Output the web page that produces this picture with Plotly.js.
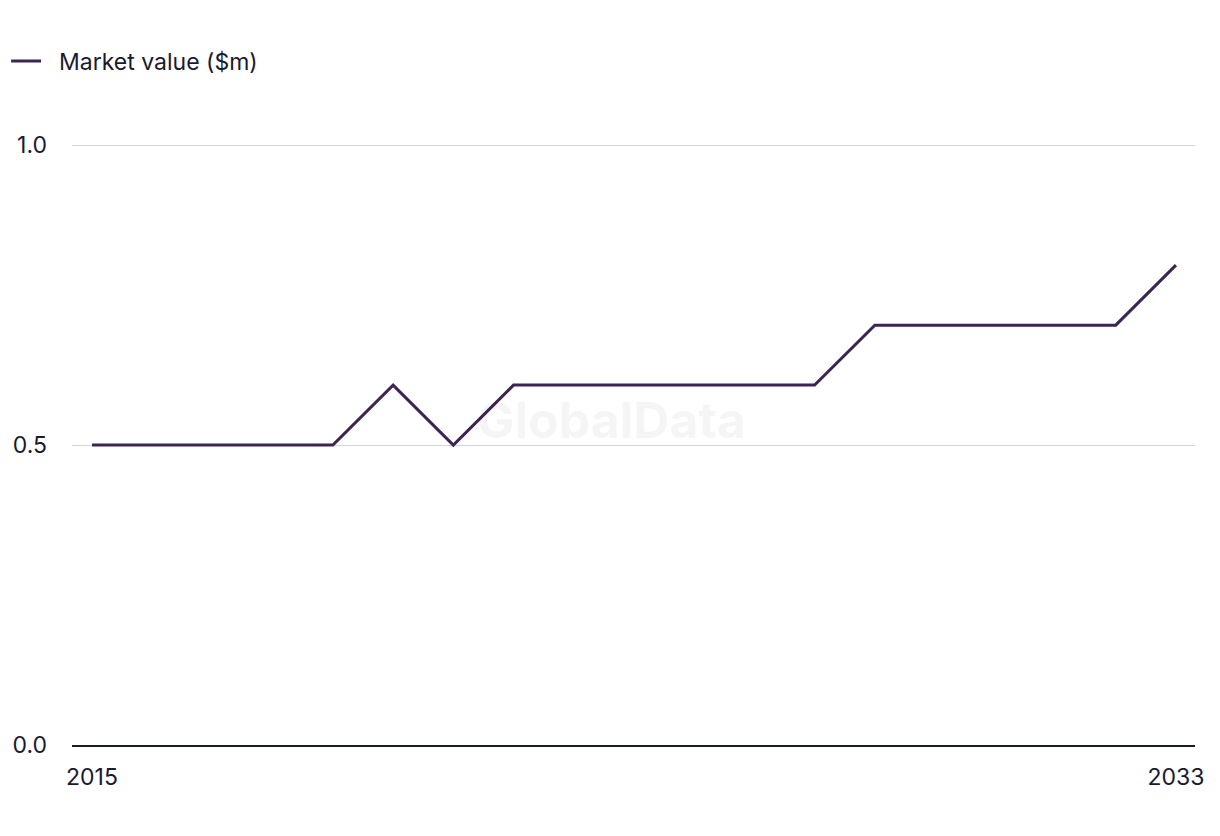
<!DOCTYPE html>
<html>
<head>
<meta charset="utf-8">
<script src="https://cdn.plot.ly/plotly-3.0.1.min.js"></script>
<style>html,body{margin:0;padding:0;background:#fff;}#chart{width:1220px;height:836px;}</style>
</head>
<body>
<div id="chart"></div>
<script>
const years = [2015,2016,2017,2018,2019,2020,2021,2022,2023,2024,2025,2026,2027,2028,2029,2030,2031,2032,2033];
const marketValue = [0.5,0.5,0.5,0.5,0.5,0.6,0.5,0.6,0.6,0.6,0.6,0.6,0.6,0.7,0.7,0.7,0.7,0.7,0.8];
const seriesName = 'Market value ($m)';
const xTickVals = [2015, 2033];
const yTickVals = [0, 0.5, 1.0];
const yTickText = ['0.0', '0.5', '1.0'];

const font = 'Inter, "Liberation Sans", Arial, sans-serif';
const data = [{
  x: years, y: marketValue, type: 'scatter', mode: 'lines', name: '\u00a0\u00a0' + seriesName,
  line: {color: '#3b2553', width: 3}, showlegend: true, hoverinfo: 'x+y'
}];
const layout = {
  width: 1220, height: 836,
  margin: {l: 72, r: 25, t: 144, b: 91, autoexpand: false},
  paper_bgcolor: '#fff', plot_bgcolor: '#fff',
  font: {family: font, size: 23, color: '#1a1a2e'},
  showlegend: true,
  legend: {orientation: 'h', xref: 'container', yref: 'container', x: 0.005, xanchor: 'left', y: 0.927, yanchor: 'middle', font: {size: 23, color: '#1a1a2e'}, bgcolor: 'rgba(0,0,0,0)'},
  xaxis: {
    range: [2014.668, 2033.316], tickvals: xTickVals, ticktext: xTickVals.map(String),
    showgrid: false, zeroline: false, showline: true, linecolor: '#1a1a2e', linewidth: 2,
    ticks: '', ticklabelstandoff: 10, automargin: false, fixedrange: true
  },
  yaxis: {
    range: [0, 1.002], tickvals: yTickVals, ticktext: yTickText,
    showgrid: true, gridcolor: '#d6d6d6', gridwidth: 1, zeroline: false, showline: false,
    ticks: '', ticklabelstandoff: 24, automargin: false, fixedrange: true
  },
  annotations: [{
    text: '<b>GlobalData</b>', xref: 'paper', yref: 'paper', x: 0.48, y: 0.54,
    showarrow: false, font: {family: font, size: 50, color: 'rgba(0,0,0,0.04)'}
  }]
};
Plotly.newPlot('chart', data, layout, {displayModeBar: false, staticPlot: true});
</script>
</body>
</html>
